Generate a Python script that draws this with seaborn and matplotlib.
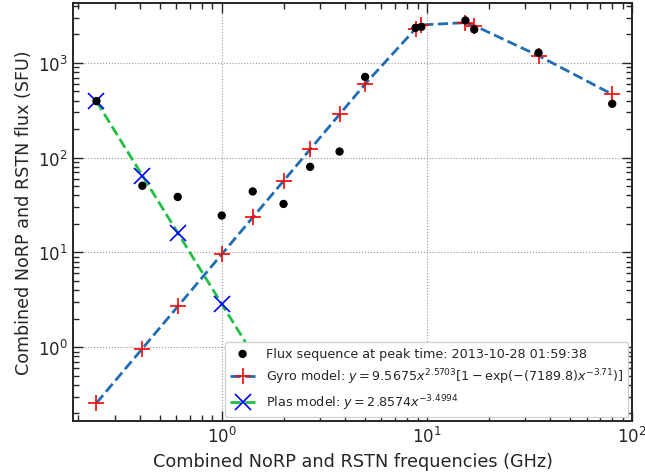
import matplotlib
matplotlib.use("Agg")
import matplotlib.pyplot as plt
import seaborn as sns
import pandas as pd

# Observed flux at peak time (NoRP + RSTN)
freq_obs = [0.245, 0.41, 0.61, 1.0, 1.415, 2.0, 2.695, 3.75, 4.995, 8.8, 9.4, 15.4, 17.0, 35.0, 80.0]
flux_obs = [395, 50.5, 38.5, 24.5, 44, 32.5, 80, 116, 710, 2340, 2400, 2800, 2250, 1280, 370]

# Gyro model values at the same frequencies
gyro_freq = freq_obs
gyro_flux = [0.258, 0.967, 2.69, 9.57, 23.4, 56.8, 122.3, 286.0, 597.4, 2292, 2513, 2656, 2475, 1188, 466]

# Plasma model values
plas_freq = [0.245, 0.41, 0.61, 1.0, 1.415]
plas_flux = [392.2, 64.7, 16.1, 2.857, 0.848]

obs = pd.DataFrame({"freq": freq_obs, "flux": flux_obs})
gyro = pd.DataFrame({"freq": gyro_freq, "flux": gyro_flux})
plas = pd.DataFrame({"freq": plas_freq, "flux": plas_flux})

sns.set_style("ticks")
plt.rcParams["font.family"] = ["DejaVu Sans"]

fig = plt.figure(figsize=(6.45, 4.77), dpi=100)
ax = fig.add_axes([0.113, 0.115, 0.867, 0.877])

sns.lineplot(data=gyro, x="freq", y="flux", ax=ax, color="#1f6db4", linestyle="--", linewidth=2,
             marker="+", markersize=12, markeredgecolor="red", markerfacecolor="red", markeredgewidth=1.2,
             label=r"Gyro model: $y=9.5675x^{2.5703}[1-\exp(-(7189.8)x^{-3.71})]$")
sns.lineplot(data=plas, x="freq", y="flux", ax=ax, color="#1fbf45", linestyle="--", linewidth=2,
             marker="x", markersize=11, markeredgecolor="blue", markerfacecolor="blue", markeredgewidth=1.2,
             label=r"Plas model: $y=2.8574x^{-3.4994}$")
sns.scatterplot(data=obs, x="freq", y="flux", ax=ax, color="black", s=36, edgecolor="none", zorder=3,
                label="Flux sequence at peak time: 2013-10-28 01:59:38")

ax.set_xscale("log")
ax.set_yscale("log")
ax.set_xlim(0.188, 100)
ax.set_ylim(0.166, 4300)

ax.grid(True, which="major", linestyle=":", color="0.6", linewidth=0.8)
ax.tick_params(which="both", direction="in", top=True, right=True, labelsize=12)
ax.tick_params(which="major", length=7, width=1)
ax.tick_params(which="minor", length=4, width=1)
for s in ax.spines.values():
    s.set_linewidth(1.4)

ax.set_xlabel("Combined NoRP and RSTN frequencies (GHz)", fontsize=12.7)
ax.set_ylabel("Combined NoRP and RSTN flux (SFU)", fontsize=12.6)

h, l = ax.get_legend_handles_labels()
order = [2, 0, 1]
leg = ax.legend([h[i] for i in order], [l[i] for i in order], loc="lower right", fontsize=9.2,
                framealpha=1, edgecolor="lightgray", borderaxespad=0.3)
leg.set_zorder(5)

fig.savefig("out.png", dpi=100)
